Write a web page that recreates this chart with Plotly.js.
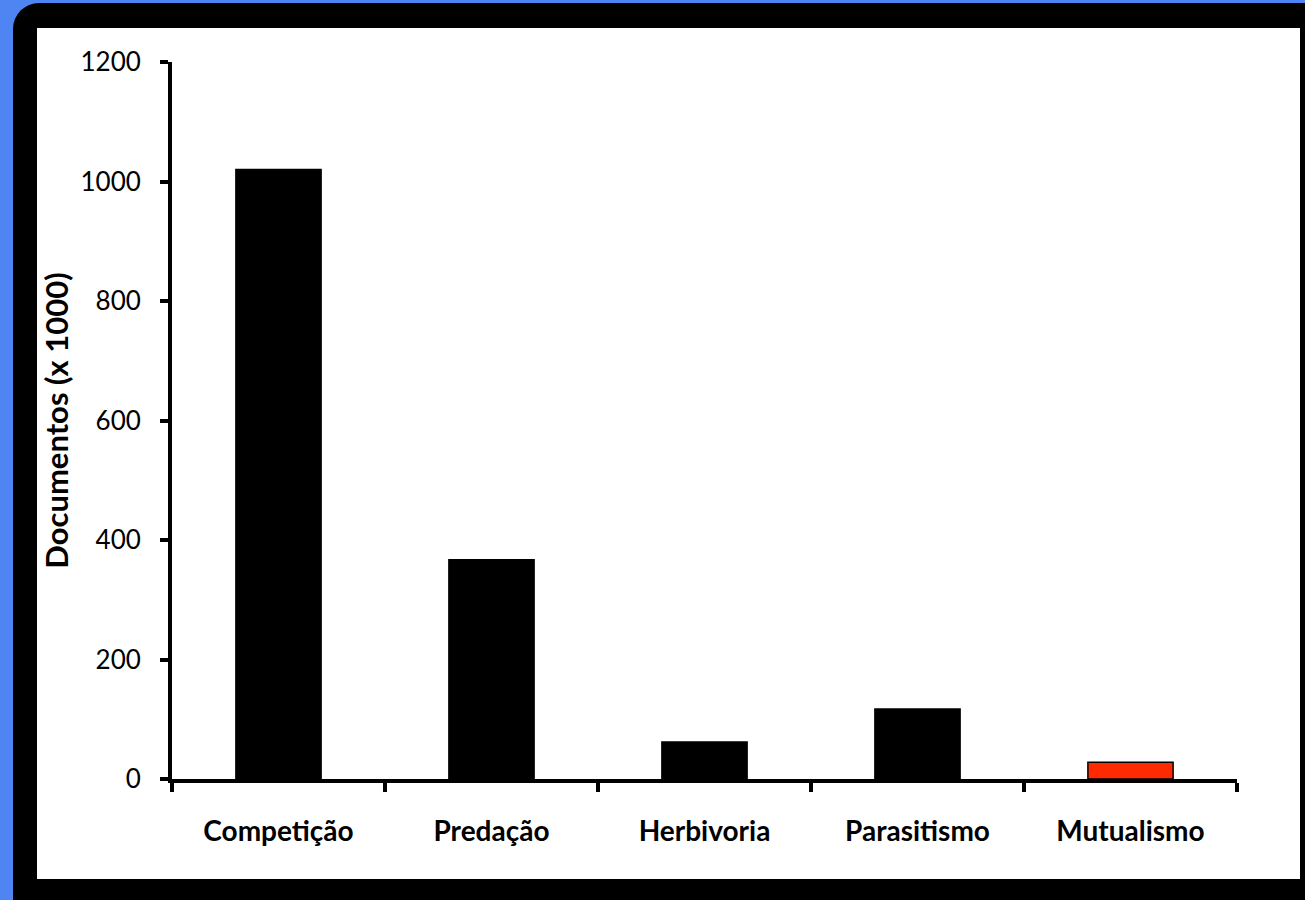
<!DOCTYPE html>
<html>
<head>
<meta charset="utf-8">
<script src="https://cdn.plot.ly/plotly-3.0.1.min.js"></script>
<style>
  html, body { margin: 0; padding: 0; width: 1305px; height: 900px; overflow: hidden; background: #4f84f3; }
  #frame { position: absolute; left: 13px; top: 3px; width: 1300px; height: 905px; background: #000; border-top-left-radius: 26px; }
  #chart { position: absolute; left: 37px; top: 28px; width: 1263px; height: 851px; background: #fff; }
</style>
</head>
<body>
<div id="frame"></div>
<div id="chart"></div>
<script>
const categories = ["Competição", "Predação", "Herbivoria", "Parasitismo", "Mutualismo"];
const documentos = [1020, 367, 62, 117, 28];
const barColors = ["#000000", "#000000", "#000000", "#000000", "#ff2a00"];
const yTickVals = [0, 200, 400, 600, 800, 1000, 1200];

const font = "Lato, 'Open Sans', sans-serif";

const trace = {
  type: "bar",
  x: categories,
  y: documentos,
  width: 0.40,
  marker: { color: barColors, line: { color: "#000", width: 1.5 } },
  hoverinfo: "x+y"
};

const layout = {
  width: 1263,
  height: 851,
  margin: { l: 135, r: 63, t: 34, b: 100 },
  paper_bgcolor: "#ffffff",
  plot_bgcolor: "#ffffff",
  showlegend: false,
  font: { family: font, color: "#000" },
  xaxis: {
    type: "category",
    range: [-0.5, 4.5],
    showline: true, linecolor: "#000", linewidth: 4,
    ticks: "outside", tickson: "boundaries", ticklen: 9, tickwidth: 4, tickcolor: "#000",
    tickfont: { family: font, size: 28, color: "#000", weight: "bold" },
    ticklabelstandoff: 24,
    showgrid: false, zeroline: false
  },
  yaxis: {
    range: [0, 1200],
    tickvals: yTickVals,
    ticktext: yTickVals.map(String),
    showline: true, linecolor: "#000", linewidth: 4,
    ticks: "outside", ticklen: 8, tickwidth: 4, tickcolor: "#000",
    tickfont: { family: font, size: 26, color: "#000" },
    ticklabelstandoff: 14,
    showgrid: false, zeroline: false,
    title: { text: "Documentos (x 1000)", font: { family: font, size: 31, color: "#000", weight: "bold" }, standoff: 15 }
  }
};

Plotly.newPlot("chart", [trace], layout, { displayModeBar: false, staticPlot: true });
</script>
</body>
</html>
